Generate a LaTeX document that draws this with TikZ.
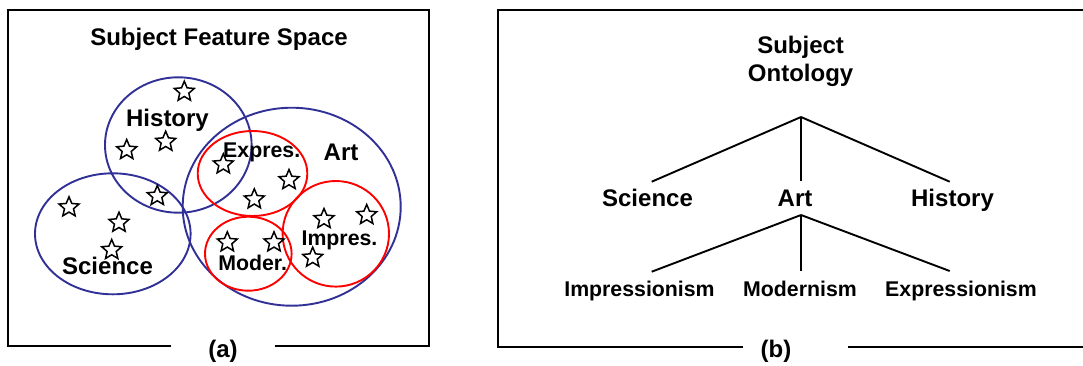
\documentclass[tikz,border=0pt]{standalone}
\usepackage{fontspec}
\setmainfont{Liberation Sans}
\usetikzlibrary{shapes.geometric}
\definecolor{navyc}{RGB}{48,48,150}
\begin{document}
\begin{tikzpicture}[x=1pt,y=-1pt,
  lbl/.style={anchor=base,inner sep=0pt,font={\bfseries\fontsize{24}{28}\selectfont}},
  sublbl/.style={anchor=base,inner sep=0pt,font={\bfseries\fontsize{21.3}{25}\selectfont}},
  starmark/.style={star,star points=5,star point ratio=2.2,minimum size=21pt,inner sep=0pt,draw=black,line width=1.5pt},
  blueell/.style={draw=navyc,line width=1.9pt},
  redell/.style={draw=red,line width=1.9pt},
  frame/.style={line width=2pt},
  edgeline/.style={line width=1.9pt}]
\useasboundingbox (0,0) rectangle (1083,365);
\fill[white] (0,0) rectangle (1083,365);

% ---------- panel (a) ----------
\draw[frame] (171,346) -- (8.3,346) -- (8.3,10) -- (429,10) -- (429,346) -- (275,346);
\node[lbl] (capa) at (223,357) {(a)};
\node[lbl] (sfs) at (219,45) {Subject Feature Space};

\draw[blueell] (178.3,145) ellipse [x radius=73.3pt, y radius=67.7pt];
\draw[blueell] (112.8,233.8) ellipse [x radius=77.8pt, y radius=60.5pt];
\draw[blueell] (291.7,206.7) ellipse [x radius=109pt, y radius=99pt];
\draw[redell] (252.5,173.5) ellipse [x radius=54.8pt, y radius=42.5pt];
\draw[redell] (248.3,253.7) ellipse [x radius=43.3pt, y radius=37pt];
\draw[redell] (335.8,233.8) ellipse [x radius=53.2pt, y radius=52.8pt];

\node[starmark] (s1) at (184.3,91.7) {};
\node[starmark] (s2) at (126.7,150) {};
\node[starmark] (s3) at (165.7,141.7) {};
\node[starmark] (s4) at (157.3,196) {};
\node[starmark] (s5) at (69,207.3) {};
\node[starmark] (s6) at (119,222.7) {};
\node[starmark] (s7) at (111.7,250) {};
\node[starmark] (s8) at (223.3,164.3) {};
\node[starmark] (s9) at (289,180) {};
\node[starmark] (s10) at (254.3,199.3) {};
\node[starmark] (s11) at (227.3,242.3) {};
\node[starmark] (s12) at (274,242.3) {};
\node[starmark] (s13) at (324,219) {};
\node[starmark] (s14) at (366.7,215) {};
\node[starmark] (s15) at (312.7,257.7) {};

\node[lbl] (lhist) at (167.5,126) {History};
\node[lbl] (lart) at (341,160) {Art};
\node[lbl] (lsci) at (107.5,274) {Science};
\node[sublbl] (lexp) at (261.7,157) {Expres.};
\node[sublbl] (lmod) at (252.7,270) {Moder.};
\node[sublbl] (limp) at (339.5,245) {Impres.};

% ---------- panel (b) ----------
\draw[frame] (743,347) -- (498,347) -- (498,10) -- (1083,10);
\draw[frame] (848,347) -- (1083,347);
\node[lbl] (capb) at (776,357) {(b)};

\node[lbl] (subj) at (800.6,53) {Subject};
\node[lbl] (onto) at (800.6,81) {Ontology};
\node[lbl] (sci) at (647.5,206) {Science};
\node[lbl] (art) at (795,206) {Art};
\node[lbl] (his) at (952.5,206) {History};
\node[sublbl] (imp) at (639.5,296) {Impressionism};
\node[sublbl] (mod) at (800,296) {Modernism};
\node[sublbl] (exp) at (961,296) {Expressionism};

\coordinate (apex1) at (801,117);
\coordinate (esci) at (651.7,181.7);
\coordinate (eart) at (801,181);
\coordinate (ehis) at (949.7,181.7);
\coordinate (apex2) at (801,215);
\coordinate (eimp) at (651.7,271.7);
\coordinate (emod) at (801,271);
\coordinate (eexp) at (949.7,271);

\draw[edgeline] (apex1) -- (esci);
\draw[edgeline] (apex1) -- (eart);
\draw[edgeline] (apex1) -- (ehis);
\draw[edgeline] (apex2) -- (eimp);
\draw[edgeline] (apex2) -- (emod);
\draw[edgeline] (apex2) -- (eexp);
\end{tikzpicture}
\end{document}
